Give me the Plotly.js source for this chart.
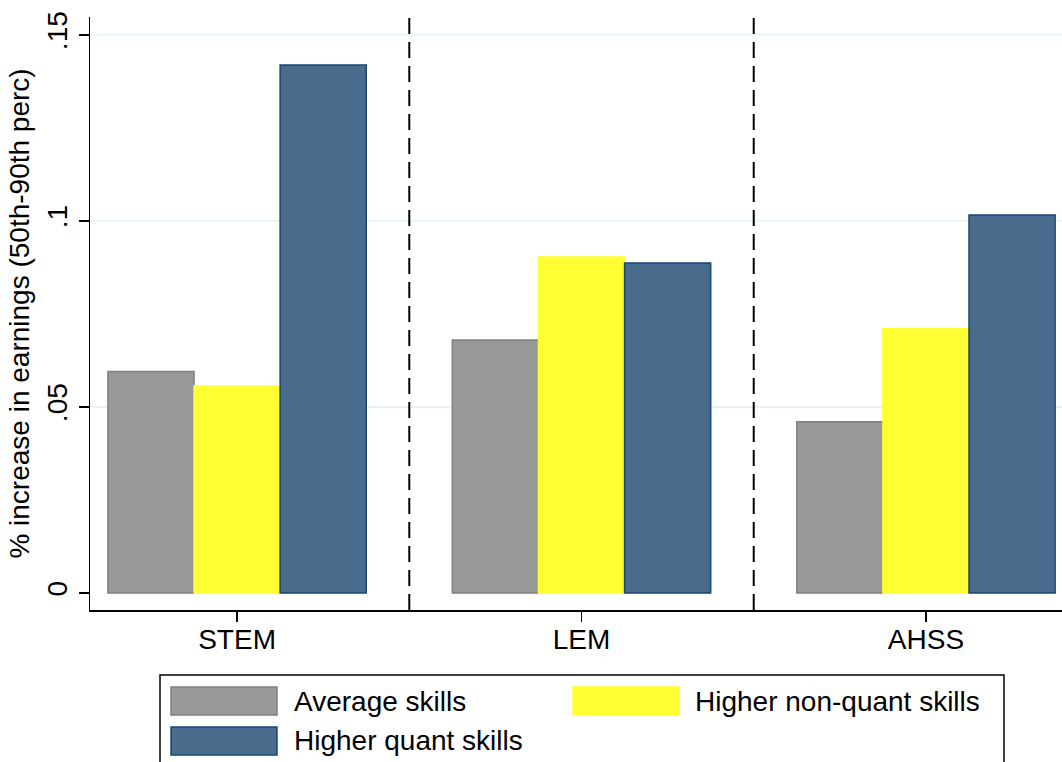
<!DOCTYPE html>
<html>
<head>
<meta charset="utf-8">
<script src="https://cdn.plot.ly/plotly-3.0.1.min.js"></script>
<style>html,body{margin:0;padding:0;background:#fff;}#chart{width:1062px;height:762px;}</style>
</head>
<body>
<div id="chart"></div>
<script>
// ---- data ----
const categories = ["STEM", "LEM", "AHSS"];
const seriesNames = ["Average skills", "Higher non-quant skills", "Higher quant skills"];
const averageSkills = [0.0595, 0.0680, 0.0460];
const higherNonQuant = [0.0556, 0.0903, 0.0710];
const higherQuant = [0.1419, 0.0887, 0.1016];
const yTickVals = [0, 0.05, 0.1, 0.15];
const yTickText = ["0", ".05", ".1", ".15"];
const yTitle = "% increase in earnings (50th-90th perc)";

// ---- styles ----
const fills = ["#999999", "#ffff33", "#4a6c8c"];
const outlines = ["#808080", "#ffff33", "#1a476f"];
const FONT = "Liberation Sans, Arial, sans-serif";
const FS = 28;

const W = 1062, H = 762;
const L = 90, R = 0, T = 17, B = 152;
const plotW = W - L - R, plotH = H - T - B;
const px = x => (x - L) / plotW;
const py = y => (H - B - y) / plotH;

const values = [averageSkills, higherNonQuant, higherQuant];
const traces = values.map((v, i) => ({
  type: "bar",
  x: categories,
  y: v,
  name: seriesNames[i],
  marker: {color: fills[i], line: {color: outlines[i], width: 1.5}},
  showlegend: false,
  hoverinfo: "x+y+name"
}));

const shapes = [];
// gridlines
yTickVals.filter(v => v > 0).forEach(v => shapes.push({
  type: "line", xref: "paper", yref: "y", x0: 0, x1: 1, y0: v, y1: v,
  line: {color: "#eaf2f3", width: 2}, layer: "below"
}));
// dashed dividers between groups
[0.5, 1.5].forEach(x => shapes.push({
  type: "line", xref: "x", yref: "paper", x0: x, x1: x, y0: 0, y1: 1,
  line: {color: "#000", width: 2, dash: "16px,8px"}
}));
// legend box
shapes.push({type: "rect", xref: "paper", yref: "paper",
  x0: px(160), x1: px(1004), y0: py(675), y1: py(775),
  line: {color: "#000", width: 1.5}, fillcolor: "rgba(0,0,0,0)"});
const legendPos = [
  {sx: 171, sy: 687, tx: 295},
  {sx: 573, sy: 687, tx: 696},
  {sx: 171, sy: 727, tx: 295}
];
const annotations = [];
legendPos.forEach((p, i) => {
  shapes.push({type: "rect", xref: "paper", yref: "paper",
    x0: px(p.sx), x1: px(p.sx + 106), y0: py(p.sy), y1: py(p.sy + 28),
    fillcolor: fills[i], line: {color: outlines[i], width: 1.5}});
  annotations.push({xref: "paper", yref: "paper", x: px(p.tx - 3), y: py(p.sy + 14),
    xanchor: "left", yanchor: "middle", showarrow: false, text: seriesNames[i],
    font: {family: FONT, size: FS, color: "#000"}});
});

const layout = {
  width: W, height: H,
  margin: {l: L, r: R, t: T, b: B, pad: 0},
  paper_bgcolor: "#fff", plot_bgcolor: "#fff",
  font: {family: FONT, color: "#000"},
  barmode: "group", bargap: 0.25, bargroupgap: 0,
  showlegend: false,
  xaxis: {
    type: "category", range: [-0.427, 2.395],
    showline: true, linecolor: "#000", linewidth: 1.5,
    ticks: "outside", ticklen: 10, tickwidth: 1.5, tickcolor: "#000",
    ticklabelstandoff: -6,
    showgrid: false, zeroline: false,
    tickfont: {family: FONT, size: FS, color: "#000"}
  },
  yaxis: {
    range: [-0.0046, 0.1548],
    tickvals: yTickVals, ticktext: yTickText, tickangle: -90,
    showline: true, linecolor: "#000", linewidth: 1.5,
    ticks: "outside", ticklen: 10, tickwidth: 1.5, tickcolor: "#000",
    showgrid: false, zeroline: false,
    tickfont: {family: FONT, size: FS, color: "#000"},
    title: {text: yTitle, font: {family: FONT, size: FS, color: "#000"}, standoff: 4}
  },
  shapes: shapes,
  annotations: annotations
};

Plotly.newPlot("chart", traces, layout, {displayModeBar: false, staticPlot: true});
</script>
</body>
</html>
